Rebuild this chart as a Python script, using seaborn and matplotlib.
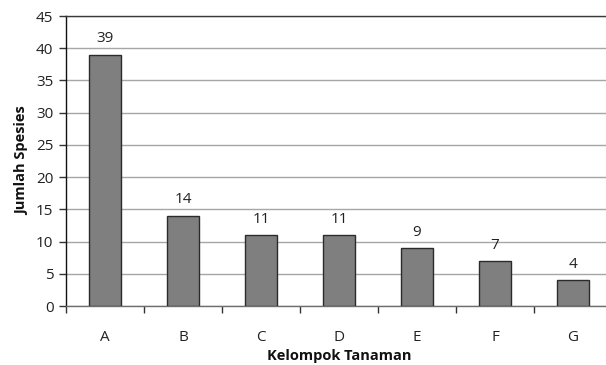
import matplotlib
matplotlib.use("Agg")
import matplotlib.pyplot as plt
import seaborn as sns
import pandas as pd
import numpy as np

categories = ["A", "B", "C", "D", "E", "F", "G"]
species_counts = [39, 14, 11, 11, 9, 7, 4]
y_ticks = [0, 5, 10, 15, 20, 25, 30, 35, 40, 45]

sns.set_theme(style="white")
plt.rcParams["font.family"] = ["Open Sans", "DejaVu Sans"]

df = pd.DataFrame({"Kelompok": categories, "Jumlah": species_counts})

fig = plt.figure(figsize=(6.06, 3.65), dpi=100)
ax = fig.add_axes([66 / 606, 59 / 365, 546 / 606, 290 / 365])

sns.barplot(data=df, x="Kelompok", y="Jumlah", ax=ax, color="#7f7f7f",
            width=0.41, edgecolor="#2b2b2b", linewidth=1.0, saturation=1, zorder=3)

ax.set_ylim(0, 45)
ax.set_xlim(-0.5, len(categories) - 0.5)
ax.set_yticks(y_ticks)
ax.yaxis.grid(True, color="#a6a6a6", linewidth=1.0, zorder=0)
ax.set_axisbelow(True)

for i, v in enumerate(species_counts):
    ax.annotate(str(v), (i, v), xytext=(0, 6), textcoords="offset points",
                ha="center", va="bottom", fontsize=11, color="#222222")

# category separators as tick marks below the axis
ax.set_xticks(np.arange(-0.5, len(categories), 1.0), minor=True)
ax.tick_params(axis="x", which="minor", length=5, width=1, color="#333333", bottom=True)
ax.tick_params(axis="x", which="major", length=0, pad=17, labelsize=11, colors="#222222")
ax.tick_params(axis="y", which="major", length=5, width=1, color="#333333", left=True,
               pad=4, labelsize=11, colors="#222222")

ax.spines["right"].set_visible(False)
ax.spines["left"].set_color("#111111")
ax.spines["top"].set_color("#3a3a3a")
ax.spines["bottom"].set_color("#6e6e6e")
for s in ax.spines.values():
    s.set_linewidth(1.0)

ax.set_xlabel("Kelompok Tanaman", fontsize=10.5, fontweight="bold", color="#111111", labelpad=3)
ax.set_ylabel("Jumlah Spesies", fontsize=10.5, fontweight="bold", color="#111111", labelpad=5)

fig.savefig("out.png", dpi=100)
